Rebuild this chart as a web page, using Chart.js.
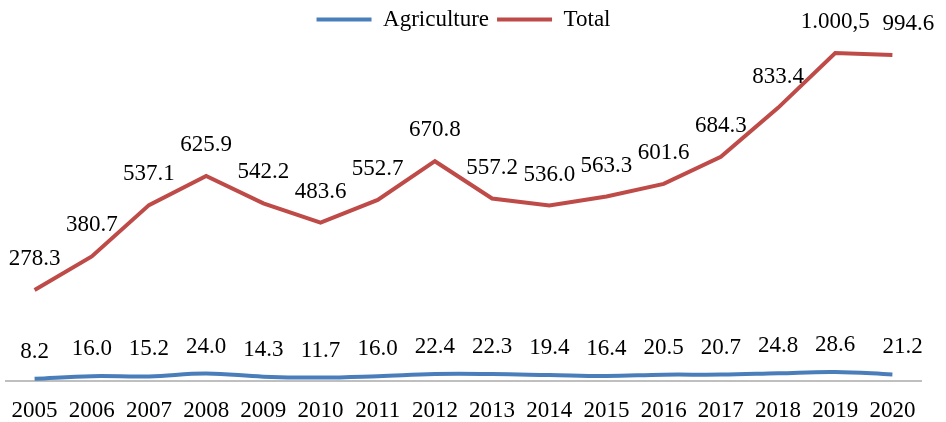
<!DOCTYPE html>
<html>
<head>
<meta charset="utf-8">
<script src="https://cdn.jsdelivr.net/npm/chart.js@4.4.0/dist/chart.umd.min.js"></script>
<style>
  html, body { margin: 0; padding: 0; background: #fff; }
  #wrap { width: 946px; height: 422px; }
</style>
</head>
<body>
<div id="wrap"><canvas id="myChart"></canvas></div>
<script>
var years = ['2005', '2006', '2007', '2008', '2009', '2010', '2011', '2012',
    '2013', '2014', '2015', '2016', '2017', '2018', '2019', '2020'];
var agriculture = [8.2, 16.0, 15.2, 24.0, 14.3, 11.7, 16.0, 22.4,
    22.3, 19.4, 16.4, 20.5, 20.7, 24.8, 28.6, 21.2];
var total = [278.3, 380.7, 537.1, 625.9, 542.2, 483.6, 552.7, 670.8,
    557.2, 536.0, 563.3, 601.6, 684.3, 833.4, 1000.5, 994.6];

var serif = '"Liberation Serif", "Times New Roman", serif';

// labels like the original: 1.000,5 for thousands, 278.3 otherwise
function fmt(v) {
    if (v >= 1000) {
        var s = v.toFixed(1).split('.');
        return s[0].slice(0, -3) + '.' + s[0].slice(-3) + ',' + s[1];
    }
    return v.toFixed(1);
}

var valueLabels = {
    id: 'valueLabels',
    afterDatasetsDraw: function(chart) {
        var ctx = chart.ctx;
        ctx.save();
        ctx.font = '23px ' + serif;
        ctx.fillStyle = '#000';
        ctx.textBaseline = 'middle';
        chart.data.datasets.forEach(function(ds, i) {
            var meta = chart.getDatasetMeta(i);
            meta.data.forEach(function(pt, j) {
                var last = j === meta.data.length - 1;
                // last label pushed right so it doesn't collide with its neighbour
                ctx.textAlign = last ? 'left' : 'center';
                ctx.fillText(fmt(ds.data[j]), last ? pt.x - 10 : pt.x, pt.y + ds.labelOffset);
            });
        });
        ctx.restore();
    }
};

var config = {
    type: 'line',
    data: {
        labels: years,
        datasets: [{
            label: 'Agriculture',
            data: agriculture,
            borderColor: '#4A7EBB',
            backgroundColor: '#4A7EBB',
            borderWidth: 4,
            pointRadius: 0,
            tension: 0.4,
            fill: false,
            labelOffset: -27
        }, {
            label: 'Total',
            data: total,
            borderColor: '#BE4B48',
            backgroundColor: '#BE4B48',
            borderWidth: 4,
            pointRadius: 0,
            tension: 0,
            fill: false,
            labelOffset: -31
        }]
    },
    options: {
        responsive: true,
        maintainAspectRatio: false,
        animation: false,
        layout: { padding: { left: 6, right: 25, top: 0, bottom: -11 } },
        plugins: {
            legend: {
                position: 'top',
                labels: {
                    usePointStyle: true,
                    pointStyle: 'line',
                    pointStyleWidth: 55,
                    padding: 8,
                    color: '#000',
                    font: { family: serif, size: 23 }
                }
            },
            tooltip: { enabled: false }
        },
        scales: {
            x: {
                offset: true,
                grid: { display: false },
                border: { display: true, color: '#BFBFBF', width: 2 },
                ticks: {
                    color: '#000',
                    padding: 8,
                    maxRotation: 0,
                    autoSkip: false,
                    font: { family: serif, size: 23 }
                }
            },
            y: {
                display: false,
                min: 0,
                max: 1037
            }
        }
    },
    plugins: [valueLabels]
};

window.addEventListener('DOMContentLoaded', function() {
    var ctx = document.getElementById('myChart').getContext('2d');
    window.myLine = new Chart(ctx, config);
});
</script>
</body>
</html>
